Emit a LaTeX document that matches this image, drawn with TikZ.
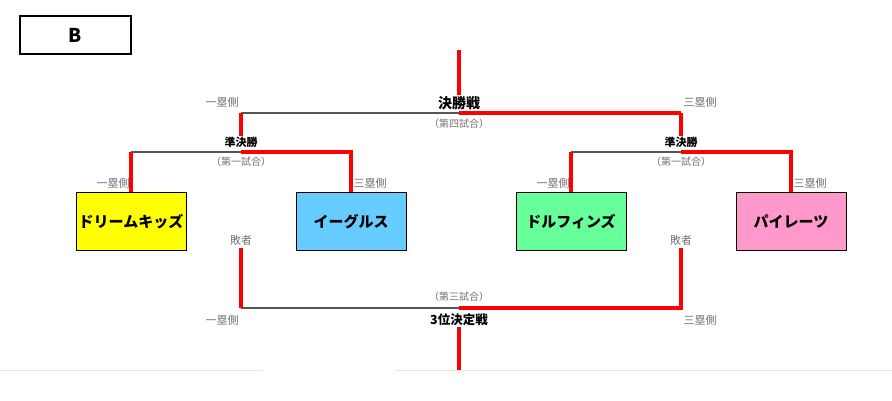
\documentclass[tikz,border=0pt]{standalone}
\usepackage{fontspec}
\setmainfont{Noto Sans CJK JP}
\usepackage{xcolor}
\definecolor{winred}{HTML}{FF0000}
\definecolor{bracketgray}{HTML}{555555}
\definecolor{labelgray}{HTML}{707070}
\definecolor{faintgray}{HTML}{E6E6E6}
\definecolor{teamyellow}{HTML}{FFFF00}
\definecolor{teamblue}{HTML}{66CCFF}
\definecolor{teamgreen}{HTML}{66FF99}
\definecolor{teampink}{HTML}{FF99CC}
\usetikzlibrary{positioning, calc}
\tikzset{
  every node/.style={font=\rmfamily},
  teambox/.style={
    rectangle, draw=black, line width=1pt, minimum width=110pt,
    minimum height=57pt, align=center, inner sep=2pt,
    font=\rmfamily\bfseries\fontsize{15}{17}\selectfont
  },
  groupbox/.style={
    rectangle, draw=black, line width=1.6pt, minimum width=111pt,
    minimum height=38pt, font=\rmfamily\bfseries\fontsize{19}{21}\selectfont
  },
  redline/.style={winred, line width=3.6pt},
  grayline/.style={bracketgray, line width=1.3pt},
  matchlabel/.style={font=\rmfamily\bfseries\fontsize{11}{13}\selectfont, inner sep=1pt},
  finallabel/.style={font=\rmfamily\bfseries\fontsize{14}{16}\selectfont, inner sep=1pt},
  gamelabel/.style={labelgray, font=\rmfamily\fontsize{10}{12}\selectfont, inner sep=1pt},
  sidelabel/.style={labelgray, font=\rmfamily\fontsize{11}{13}\selectfont, inner sep=1pt},
  loserlabel/.style={labelgray, font=\rmfamily\fontsize{11}{13}\selectfont, inner sep=1pt}
}

\begin{document}
\begin{tikzpicture}[x=1pt, y={(0pt,-1pt)}]
\useasboundingbox (0,0) rectangle (892,401);

% ── Group tag ────────────────────────────────────────────────────────────────
\node[groupbox] (group) at (75.5,35) {B};

% ── Teams ────────────────────────────────────────────────────────────────────
\node[teambox, fill=teamyellow] (dream)    at (131,221.5) {ドリームキッズ};
\node[teambox, fill=teamblue]   (eagles)   at (351,221.5) {イーグルス};
\node[teambox, fill=teamgreen]  (dolphins) at (571,221.5) {ドルフィンズ};
\node[teambox, fill=teampink]   (pirates)  at (791,221.5) {パイレーツ};

% ── Final ────────────────────────────────────────────────────────────────────
\coordinate (finaltop) at (459,50);
\coordinate (finalJ)   at (459,113);
\coordinate (semiLtop) at (241,113);
\coordinate (semiRtop) at (681,113);
\node[finallabel] (finallbl) at (459,103) {決勝戦};
\node[gamelabel] (game4) at (459,124) {（第四試合）};
\node[sidelabel] (finalside1) at (222,102) {一塁側};
\node[sidelabel] (finalside3) at (700,102) {三塁側};
\draw[redline] (finaltop) -- (finallbl.north);
\draw[grayline] (semiLtop) -- (finalJ);
\draw[redline] (finalJ) -- (semiRtop);

% ── Semifinal (left) ─────────────────────────────────────────────────────────
\node[matchlabel] (semiLlbl) at (241,142) {準決勝};
\node[gamelabel] (game1L) at (241,162) {（第一試合）};
\coordinate (semiL) at (241,152);
\draw[redline] (semiLtop) -- (semiLlbl.north);
\draw[grayline] (dream.north |- semiL) -- (semiL);
\draw[redline] (dream.north |- semiL) -- (dream.north);
\draw[redline] (semiL) -- (eagles.north |- semiL) -- (eagles.north);
\node[sidelabel] (dreamside) at (113,183) {一塁側};
\node[sidelabel] (eaglesside) at (370,183) {三塁側};

% ── Semifinal (right) ────────────────────────────────────────────────────────
\node[matchlabel] (semiRlbl) at (681,142) {準決勝};
\node[gamelabel] (game1R) at (681,162) {（第一試合）};
\coordinate (semiR) at (681,152);
\draw[redline] (semiRtop) -- (semiRlbl.north);
\draw[grayline] (dolphins.north |- semiR) -- (semiR);
\draw[redline] (dolphins.north |- semiR) -- (dolphins.north);
\draw[redline] (semiR) -- (pirates.north |- semiR) -- (pirates.north);
\node[sidelabel] (dolphinsside) at (553,183) {一塁側};
\node[sidelabel] (piratesside) at (810,183) {三塁側};

% ── Third place ──────────────────────────────────────────────────────────────
\node[loserlabel] (loserL) at (241,240) {敗者};
\node[loserlabel] (loserR) at (681,240) {敗者};
\coordinate (thirdJ) at (459,308);
\coordinate (thirdbottom) at (459,370);
\node[gamelabel] (game3) at (459,297) {（第三試合）};
\node[finallabel, font=\rmfamily\bfseries\fontsize{12.5}{14}\selectfont] (thirdlbl) at (459,320) {3位決定戦};
\node[sidelabel] (thirdside1) at (222,320) {一塁側};
\node[sidelabel] (thirdside3) at (700,320) {三塁側};
\draw[redline] ([yshift=-2pt]loserL.south) -- (loserL |- thirdJ);
\draw[grayline] (loserL |- thirdJ) -- (thirdJ);
\draw[redline] (thirdJ) -- (loserR |- thirdJ) -- ([yshift=-2pt]loserR.south);
\draw[redline] (thirdlbl.south) -- (thirdbottom);

% faint page rule
\draw[faintgray, line width=1pt] (0,370) -- (263,370);
\draw[faintgray, line width=1pt] (395,370) -- (892,370);

\end{tikzpicture}
\end{document}
